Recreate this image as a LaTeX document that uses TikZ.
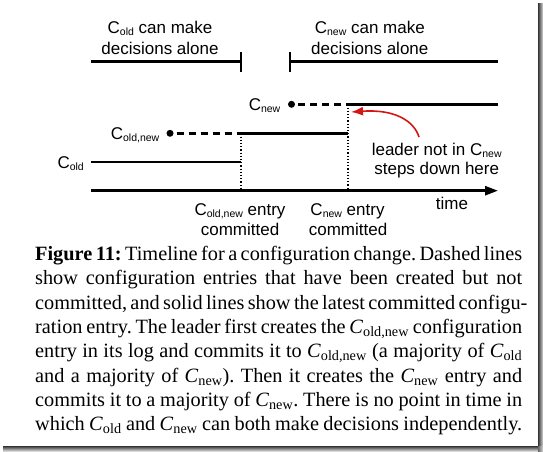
\documentclass[tikz,border=0pt]{standalone}
\usepackage{fontspec}
\setmainfont{Liberation Serif}
\newfontfamily\diagfont{Liberation Sans}
\usetikzlibrary{arrows.meta}
\definecolor{arrred}{RGB}{215,20,20}
\newcommand\sbs[1]{\raisebox{-2.6pt}{\fontsize{10.5}{12}\selectfont #1}}
\newcommand\Cs[1]{\textit{C}\textsubscript{#1}}
\newcommand\capline[1]{\noindent\makebox[487pt][s]{#1}\par}
\frenchspacing
\begin{document}
\begin{tikzpicture}[x=1pt,y=-1pt,
  lbl/.style={font=\diagfont\fontsize{17}{21}\selectfont, inner sep=0pt},
  bar/.style={line width=2.5pt},
  dsh/.style={line width=2.5pt, dash pattern=on 7pt off 5pt, dash phase=9pt},
  dotc/.style={circle, fill=black, inner sep=0pt, minimum size=7pt},
  vdot/.style={line width=1.2pt, dash pattern=on 1.2pt off 2pt},
  redarr/.style={draw=arrred, line width=1.6pt, -{Latex[length=12pt,width=9pt]}},
  capnode/.style={inner sep=0pt, anchor=base west}
 ]
\useasboundingbox (0,0) rectangle (543,451);

% frame shadow
\shade[left color=black!80, right color=black!15] (538,3) rectangle (543,446);
\shade[top color=black!80, bottom color=black!15] (3,446) rectangle (538,451);
\shade[left color=black!60, right color=black!15] (538,446) rectangle (543,451);

% top texts
\node[lbl, anchor=base] (t1a) at (160,33.3) {C\sbs{old} can make};
\node[lbl, anchor=base] (t1b) at (160,54) {decisions alone};
\node[lbl, anchor=base] (t2a) at (369.8,33.3) {C\sbs{new} can make};
\node[lbl, anchor=base] (t2b) at (369.8,54) {decisions alone};

% top bars
\coordinate (L1s) at (91,61.7);
\coordinate (L1e) at (241,61.7);
\coordinate (R1s) at (290,61.7);
\coordinate (R1e) at (498,61.7);
\draw[bar] (L1s) -- (L1e);
\draw[bar] ([yshift=-10pt]L1e) -- ([yshift=10pt]L1e);
\draw[bar] (R1s) -- (R1e);
\draw[bar] ([yshift=-10pt]R1s) -- ([yshift=10pt]R1s);

% rows
\node[lbl, anchor=base east] (cnew) at (280.5,110.3) {C\sbs{new}};
\node[lbl, anchor=base east] (coldnew) at (159.5,139.3) {C\sbs{old,new}};
\node[lbl, anchor=base east] (cold) at (84,168) {C\sbs{old}};

\node[dotc] (dn) at (291.5,104.3) {};
\coordinate (n1) at (348,104.3);
\coordinate (n2) at (498,104.3);
\draw[dsh] (dn.east) -- (n1);
\draw[bar] (n1) -- (n2);

\node[dotc] (don) at (170,133.3) {};
\coordinate (on1) at (241,133.3);
\coordinate (on2) at (348,133.3);
\draw[dsh] (don.east) -- (on1);
\draw[bar] (on1) -- (on2);

\coordinate (o1) at (91,162);
\coordinate (o2) at (241,162);
\draw[bar] (o1) -- (o2);

% time axis
\coordinate (ax1) at (91,190.7);
\coordinate (ax2) at (498,190.7);
\draw[bar, -{Triangle[length=13pt,width=9pt]}] (ax1) -- (ax2);
\coordinate (ax3) at (241,190.7);
\coordinate (ax4) at (348,190.7);
\draw[vdot] (on1) -- (ax3);
\draw[vdot] (n1) -- (ax4);

\node[lbl, anchor=base] (time) at (452,209.3) {time};
\node[lbl, anchor=base] (e1a) at (240,215) {C\sbs{old,new} entry};
\node[lbl, anchor=base] (e1b) at (240,235) {committed};
\node[lbl, anchor=base] (e2a) at (347.5,215) {C\sbs{new} entry};
\node[lbl, anchor=base] (e2b) at (348,235) {committed};

% leader note
\node[lbl, anchor=base] (ld1) at (436.7,155) {leader not in C\sbs{new}};
\node[lbl, anchor=base] (ld2) at (436.7,174) {steps down here};
\coordinate (arrs) at (419,137);
\coordinate (arre) at (351,112);
\draw[redarr] (arrs) .. controls (414,121) and (395,109) .. (arre);

% caption
\node[capnode] (cap) at (35,260.5) {\parbox[t]{487pt}{\fontsize{20.3}{24.3}\selectfont
\capline{\textbf{Figure 11:} Timeline for a configuration change. Dashed lines}
\capline{show configuration entries that have been created but not}
\capline{committed, and solid lines show the latest committed configu-}
\capline{ration entry. The leader first creates the \Cs{old,new} configuration}
\capline{entry in its log and commits it to \Cs{old,new} (a majority of \Cs{old}}
\capline{and a majority of \Cs{new}). Then it creates the \Cs{new} entry and}
\capline{commits it to a majority of \Cs{new}. There is no point in time in}
\capline{which \Cs{old} and \Cs{new} can both make decisions independently.}}};
\end{tikzpicture}
\end{document}
